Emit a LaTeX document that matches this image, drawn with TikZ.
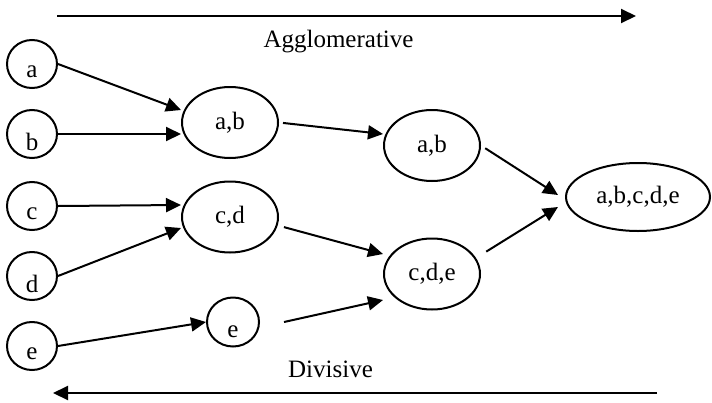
\documentclass[tikz,border=0pt]{standalone}
\usepackage{fontspec}
\setmainfont{Liberation Serif}
\usetikzlibrary{arrows.meta,shapes.geometric}

% letters sit a little low in the small circles
\newcommand{\lowered}[2][4pt]{\raisebox{-#1}[\height][\depth]{#2}}

\begin{document}
\begin{tikzpicture}[x=0.5pt, y=-0.5pt, >={Triangle[length=7.5pt,width=7pt]}, line width=1pt,
  every node/.style={font=\fontsize{12.5}{15}\selectfont},
  leaf/.style={draw, ellipse, inner sep=0pt, minimum width=25pt, minimum height=24pt},
  merged/.style={draw, ellipse, inner sep=0pt, minimum width=48pt, minimum height=35.5pt}]
  \useasboundingbox (0,0) rectangle (712,402);

  % direction arrows
  \coordinate (aggFrom) at (57,16);
  \coordinate (aggTo) at (636,16);
  \draw[->] (aggFrom) -- (aggTo);
  \node[anchor=base] (agglo) at (338.5,47) {Agglomerative};

  \coordinate (divFrom) at (657,393);
  \coordinate (divTo) at (53,393);
  \draw[->] (divFrom) -- (divTo);
  \node[anchor=base] (divis) at (330.5,377) {Divisive};

  % single objects
  \node[leaf] (a) at (32,64) {\lowered{a}};
  \node[leaf] (b) at (32,134) {\lowered{b}};
  \node[leaf] (c) at (32,206) {\lowered{c}};
  \node[leaf] (d) at (32,276) {\lowered{d}};
  \node[leaf] (e) at (32,346) {\lowered{e}};

  % first merge
  \node[merged] (ab) at (230,122.5) {a,b};
  \node[merged] (cd) at (230,217) {c,d};
  \node[leaf, minimum width=26pt, minimum height=24.5pt] (e1) at (233,322) {\lowered[5pt]{e}};

  % second merge
  \node[merged] (ab2) at (432,145.5) {a,b};
  \node[merged] (cde) at (432,274) {c,d,e};

  % all in one
  \node[merged, minimum width=72pt, minimum height=34pt] (abcde) at (638,197) {a,b,c,d,e};

  \draw[->] (a.east) -- ([yshift=6.25pt]ab.west);
  \draw[->] (b.east) -- ([yshift=-5.75pt]ab.west);
  \draw[->] (c.east) -- ([yshift=6pt]cd.west);
  \draw[->] (d.east) -- ([yshift=-5.5pt]cd.west);
  \draw[->] (e.east) -- (e1.west);

  \draw[->, shorten <=2pt] (ab.east) -- ([yshift=5.75pt]ab2.west);
  \draw[->, shorten <=3.25pt] (cd.350) -- ([yshift=10pt]cde.west);
  \draw[->] ([xshift=12pt]e1.east) -- ([yshift=-13pt]cde.west);

  \draw[->, shorten <=2.5pt] (ab2.east) -- ([xshift=-3.5pt,yshift=1pt]abcde.west);
  \draw[->, shorten <=6pt] (cde.20) -- ([xshift=-3.5pt,yshift=-5pt]abcde.west);
\end{tikzpicture}
\end{document}
